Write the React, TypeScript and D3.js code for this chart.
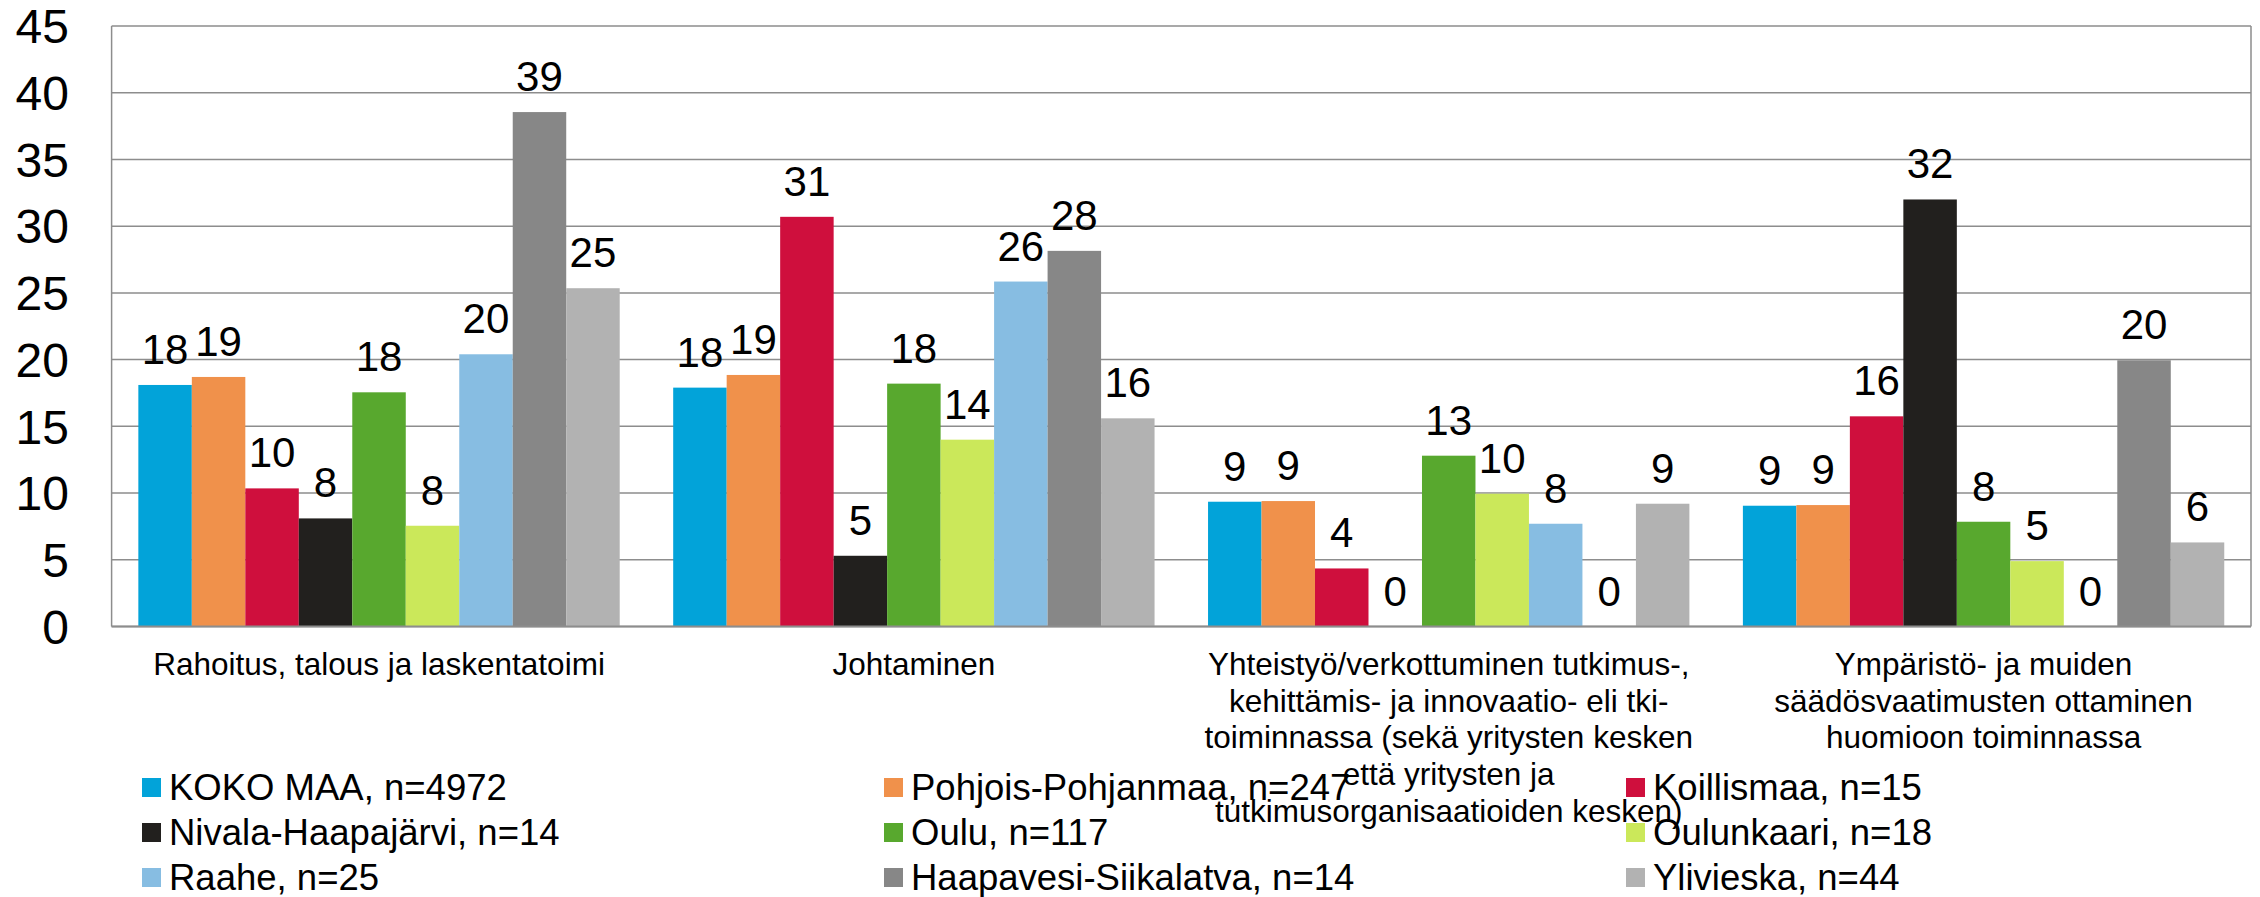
import React, { useEffect, useRef } from 'react';
import * as d3 from 'd3';

// categories on the x axis, each one split into lines as in the picture
const categories = ['Rahoitus', 'Johtaminen', 'Yhteistyo', 'Ymparisto'];
const categoryLines = [
  ['Rahoitus, talous ja laskentatoimi'],
  ['Johtaminen'],
  [
    'Yhteistyö/verkottuminen tutkimus-,',
    'kehittämis- ja innovaatio- eli tki-',
    'toiminnassa (sekä yritysten kesken',
    'että yritysten ja',
    'tutkimusorganisaatioiden kesken)',
  ],
  ['Ympäristö- ja muiden', 'säädösvaatimusten ottaminen', 'huomioon toiminnassa'],
];

const seriesNames = [
  'KOKO MAA, n=4972',
  'Pohjois-Pohjanmaa, n=247',
  'Koillismaa, n=15',
  'Nivala-Haapajärvi, n=14',
  'Oulu, n=117',
  'Oulunkaari, n=18',
  'Raahe, n=25',
  'Haapavesi-Siikalatva, n=14',
  'Ylivieska, n=44',
];
const seriesColors = [
  '#02a3d9', '#f0914b', '#cf0f3d', '#22201e', '#58a82e',
  '#cbe85a', '#87bde2', '#878787', '#b2b2b2',
];

// values per series, one per category
const kokoMaa = [18.1, 17.9, 9.35, 9.05];
const pohjoisPohjanmaa = [18.7, 18.85, 9.4, 9.1];
const koillismaa = [10.35, 30.7, 4.35, 15.75];
const nivalaHaapajarvi = [8.1, 5.3, 0, 32.0];
const oulu = [17.55, 18.2, 12.8, 7.85];
const oulunkaari = [7.55, 14.0, 9.95, 4.9];
const raahe = [20.4, 25.85, 7.7, 0];
const haapavesi = [38.55, 28.15, 0, 19.95];
const ylivieska = [25.35, 15.6, 9.2, 6.3];
const seriesValues = [
  kokoMaa, pohjoisPohjanmaa, koillismaa, nivalaHaapajarvi, oulu,
  oulunkaari, raahe, haapavesi, ylivieska,
];

const yTicks = [0, 5, 10, 15, 20, 25, 30, 35, 40, 45];

const App = () => {
  const svgRef = useRef<SVGSVGElement>(null);

  useEffect(() => {
    const svg = d3.select(svgRef.current);
    svg.selectAll('*').remove();

    const left = 111.6;
    const right = 2251;
    const top = 26;
    const bottom = 626.5;
    const font = 'Liberation Sans, Arial, sans-serif';

    const x0 = d3.scaleBand().domain(categories).range([left, right])
      .paddingInner(0.1).paddingOuter(0.05);
    const x1 = d3.scaleBand().domain(seriesNames)
      .range([0, x0.bandwidth()]).padding(0);
    const y = d3.scaleLinear().domain([0, 45]).range([bottom, top]);

    // gridlines
    svg.append('g')
      .selectAll('line')
      .data(yTicks)
      .enter()
      .append('line')
      .attr('x1', left)
      .attr('x2', right)
      .attr('y1', d => y(d))
      .attr('y2', d => y(d))
      .attr('stroke', '#8d8d8d')
      .attr('stroke-width', 1.5);

    // frame left / right
    svg.append('line').attr('x1', left).attr('x2', left).attr('y1', top).attr('y2', bottom)
      .attr('stroke', '#8d8d8d').attr('stroke-width', 1.5);
    svg.append('line').attr('x1', right).attr('x2', right).attr('y1', top).attr('y2', bottom)
      .attr('stroke', '#8d8d8d').attr('stroke-width', 1.5);

    // y tick labels
    svg.append('g')
      .selectAll('text')
      .data(yTicks)
      .enter()
      .append('text')
      .attr('x', 69)
      .attr('y', d => y(d))
      .attr('dy', '0.36em')
      .attr('text-anchor', 'end')
      .attr('font-family', font)
      .attr('font-size', 48)
      .attr('fill', '#000')
      .text(d => d);

    // bars
    const groups = svg.append('g')
      .selectAll('g')
      .data(categories)
      .enter()
      .append('g')
      .attr('transform', d => `translate(${x0(d)},0)`);

    const cells = (ci: number) =>
      seriesValues.map((vals, si) => ({ name: seriesNames[si], v: vals[ci], si }));

    groups.selectAll('rect')
      .data((_, ci) => cells(ci))
      .enter()
      .append('rect')
      .attr('x', d => x1(d.name)!)
      .attr('width', x1.bandwidth())
      .attr('y', d => y(d.v))
      .attr('height', d => y(0) - y(d.v))
      .attr('fill', d => seriesColors[d.si]);

    groups.selectAll('text')
      .data((_, ci) => cells(ci))
      .enter()
      .append('text')
      .attr('x', d => x1(d.name)! + x1.bandwidth() / 2)
      .attr('y', d => y(d.v) - 21)
      .attr('text-anchor', 'middle')
      .attr('font-family', font)
      .attr('font-size', 42)
      .attr('fill', '#000')
      .text(d => Math.round(d.v));

    // x axis line
    svg.append('line').attr('x1', left).attr('x2', right).attr('y1', bottom).attr('y2', bottom)
      .attr('stroke', '#8d8d8d').attr('stroke-width', 2);

    // category labels
    categories.forEach((c, ci) => {
      const cx = x0(c)! + x0.bandwidth() / 2;
      const t = svg.append('text')
        .attr('text-anchor', 'middle')
        .attr('font-family', font)
        .attr('font-size', 31.5)
        .attr('fill', '#000');
      categoryLines[ci].forEach((line, li) => {
        t.append('tspan')
          .attr('x', cx)
          .attr('y', 675 + li * 36.7)
          .text(line);
      });
    });

    // legend, three per row
    const legend = svg.append('g')
      .selectAll('g')
      .data(seriesNames)
      .enter()
      .append('g')
      .attr('transform', (_, i) => `translate(${142 + (i % 3) * 742},${800 + Math.floor(i / 3) * 45})`);

    legend.append('rect')
      .attr('x', 0)
      .attr('y', -22)
      .attr('width', 19)
      .attr('height', 19)
      .attr('fill', (_, i) => seriesColors[i]);

    legend.append('text')
      .attr('x', 27)
      .attr('y', 0)
      .attr('font-family', font)
      .attr('font-size', 36.5)
      .attr('fill', '#000')
      .text(d => d);
  }, []);

  return (
    <svg
      ref={svgRef}
      width="2260"
      height="897"
      style={{ position: 'absolute', left: 0, top: 0, background: '#fff' }}
    ></svg>
  );
};

export default App;
